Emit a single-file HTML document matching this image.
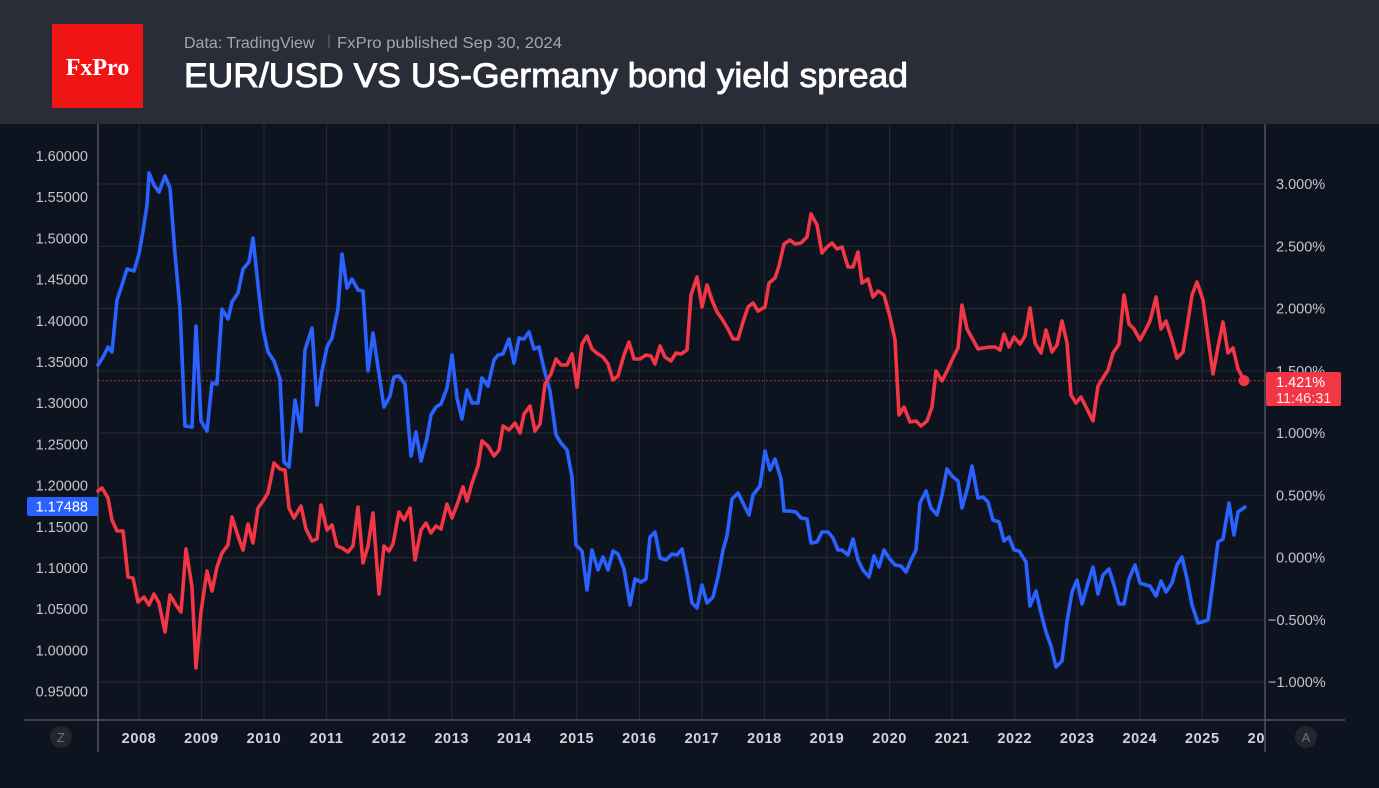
<!DOCTYPE html>
<html><head><meta charset="utf-8"><style>
html,body{margin:0;padding:0;background:#0d131f;}
svg{display:block;}
</style></head><body>
<svg width="1379" height="788" viewBox="0 0 1379 788" xmlns="http://www.w3.org/2000/svg">
<rect x="0" y="0" width="1379" height="788" fill="#0d131f"/>
<rect x="0" y="0" width="1379" height="124" fill="#2a2d38"/>
<rect x="52" y="24" width="91" height="84" fill="#f01414"/>
<text x="97.5" y="75" text-anchor="middle" font-family="Liberation Serif, serif" font-weight="bold" font-size="24" fill="#ffffff">FxPro</text>
<text x="184" y="48" font-family="Liberation Sans, sans-serif" font-size="16" fill="#a3a6ae">Data: TradingView</text>
<rect x="328.5" y="35" width="1" height="13" fill="#6a6d75"/>
<text x="337" y="48" font-family="Liberation Sans, sans-serif" font-size="16" fill="#a3a6ae" textLength="225" lengthAdjust="spacingAndGlyphs">FxPro published Sep 30, 2024</text>
<text x="184" y="87" font-family="Liberation Sans, sans-serif" font-size="34" fill="#ffffff" stroke="#ffffff" stroke-width="0.9" textLength="724" lengthAdjust="spacingAndGlyphs">EUR/USD VS US-Germany bond yield spread</text>

<!-- gridlines -->
<g stroke="#242831" stroke-width="1.2">
<line x1="98" x2="1265" y1="184" y2="184"/>
<line x1="98" x2="1265" y1="246.3" y2="246.3"/>
<line x1="98" x2="1265" y1="308.5" y2="308.5"/>
<line x1="98" x2="1265" y1="370.8" y2="370.8"/>
<line x1="98" x2="1265" y1="433" y2="433"/>
<line x1="98" x2="1265" y1="495.3" y2="495.3"/>
<line x1="98" x2="1265" y1="557.5" y2="557.5"/>
<line x1="98" x2="1265" y1="619.8" y2="619.8"/>
<line x1="98" x2="1265" y1="682" y2="682"/>
<line y1="124" y2="720" x1="139" x2="139"/>
<line y1="124" y2="720" x1="201.5" x2="201.5"/>
<line y1="124" y2="720" x1="264" x2="264"/>
<line y1="124" y2="720" x1="326.6" x2="326.6"/>
<line y1="124" y2="720" x1="389.2" x2="389.2"/>
<line y1="124" y2="720" x1="451.7" x2="451.7"/>
<line y1="124" y2="720" x1="514.3" x2="514.3"/>
<line y1="124" y2="720" x1="576.8" x2="576.8"/>
<line y1="124" y2="720" x1="639.4" x2="639.4"/>
<line y1="124" y2="720" x1="701.9" x2="701.9"/>
<line y1="124" y2="720" x1="764.5" x2="764.5"/>
<line y1="124" y2="720" x1="827" x2="827"/>
<line y1="124" y2="720" x1="889.6" x2="889.6"/>
<line y1="124" y2="720" x1="952.1" x2="952.1"/>
<line y1="124" y2="720" x1="1014.7" x2="1014.7"/>
<line y1="124" y2="720" x1="1077.2" x2="1077.2"/>
<line y1="124" y2="720" x1="1139.8" x2="1139.8"/>
<line y1="124" y2="720" x1="1202.3" x2="1202.3"/>
</g>

<!-- axes -->
<g stroke="#50535c" stroke-width="1.5">
<line x1="98" x2="98" y1="124" y2="752"/>
<line x1="1265" x2="1265" y1="124" y2="752"/>
<line x1="24" x2="1345" y1="720" y2="720"/>
</g>

<!-- dotted price line -->
<line x1="98" x2="1265" y1="380.6" y2="380.6" stroke="#f23645" stroke-width="1" stroke-dasharray="1.5 2.5"/>

<!-- left labels -->
<g font-family="Liberation Sans, sans-serif" font-size="14.5" fill="#c3c6cd" text-anchor="end">
<text x="88" y="161">1.60000</text>
<text x="88" y="202.2">1.55000</text>
<text x="88" y="243.4">1.50000</text>
<text x="88" y="284.6">1.45000</text>
<text x="88" y="325.8">1.40000</text>
<text x="88" y="367">1.35000</text>
<text x="88" y="408.2">1.30000</text>
<text x="88" y="449.4">1.25000</text>
<text x="88" y="490.6">1.20000</text>
<text x="88" y="531.8">1.15000</text>
<text x="88" y="573">1.10000</text>
<text x="88" y="614.2">1.05000</text>
<text x="88" y="655.4">1.00000</text>
<text x="88" y="696.6">0.95000</text>
</g>

<!-- right labels -->
<g font-family="Liberation Sans, sans-serif" font-size="14.5" fill="#c3c6cd">
<text x="1276" y="189">3.000%</text>
<text x="1276" y="251.3">2.500%</text>
<text x="1276" y="313.5">2.000%</text>
<text x="1276" y="375.8">1.500%</text>
<text x="1276" y="438">1.000%</text>
<text x="1276" y="500.3">0.500%</text>
<text x="1276" y="562.5">0.000%</text>
<text x="1268" y="624.8">−0.500%</text>
<text x="1268" y="687">−1.000%</text>
</g>

<!-- x labels -->
<defs><clipPath id="cx"><rect x="98" y="722" width="1167" height="30"/></clipPath></defs>
<g font-family="Liberation Sans, sans-serif" font-size="14.5" font-weight="bold" fill="#d1d4dc" text-anchor="middle" letter-spacing="0.6" clip-path="url(#cx)">
<text x="139" y="743">2008</text>
<text x="201.5" y="743">2009</text>
<text x="264" y="743">2010</text>
<text x="326.6" y="743">2011</text>
<text x="389.2" y="743">2012</text>
<text x="451.7" y="743">2013</text>
<text x="514.3" y="743">2014</text>
<text x="576.8" y="743">2015</text>
<text x="639.4" y="743">2016</text>
<text x="701.9" y="743">2017</text>
<text x="764.5" y="743">2018</text>
<text x="827" y="743">2019</text>
<text x="889.6" y="743">2020</text>
<text x="952.1" y="743">2021</text>
<text x="1014.7" y="743">2022</text>
<text x="1077.2" y="743">2023</text>
<text x="1139.8" y="743">2024</text>
<text x="1202.3" y="743">2025</text>
<text x="1265" y="743">2026</text>
</g>

<circle cx="61" cy="737" r="11" fill="#22262f"/>
<text x="61" y="742" text-anchor="middle" font-family="Liberation Sans, sans-serif" font-size="13" fill="#6f727a">Z</text>
<circle cx="1306" cy="737" r="11" fill="#22262f"/>
<text x="1306" y="742" text-anchor="middle" font-family="Liberation Sans, sans-serif" font-size="13" fill="#6f727a">A</text>

<!-- blue series -->
<polyline fill="none" stroke="#2962ff" stroke-width="3.6" stroke-linejoin="round" stroke-linecap="round" points="98,365 103,357 108,347 112,352 117,300 122,285 127,269 134,271 139,254 143,231 147,205 149,173 154,185 159,192 165,176 170,188 175,254 180,309 185,426 192,427 196,326 201,421 207,431 212,383 217,384 222,309 228,319 232,302 238,293 243,269 249,262 253,238 258,285 263,329 268,352 274,361 280,379 284,462 289,467 295,400 301,431 305,350 312,328 317,405 322,371 327,347 332,338 338,309 342,254 347,288 352,279 358,290 363,291 368,371 373,333 379,374 384,407 390,396 394,377 399,376 405,384 411,456 416,432 421,461 427,438 431,415 436,407 441,404 447,388 452,355 457,398 462,419 467,390 472,403 478,403 482,378 488,386 494,360 498,355 503,354 509,339 514,363 519,338 524,339 529,332 534,349 539,347 544,369 550,391 556,435 561,443 567,450 572,477 576,545 582,551 587,590 592,550 598,570 603,557 608,570 613,551 618,554 624,569 630,605 635,579 641,582 646,579 650,537 655,532 660,558 666,560 672,554 677,555 682,549 687,574 692,603 697,608 702,585 707,603 713,597 718,577 723,550 727,536 732,499 738,493 743,503 749,515 753,495 760,486 765,451 770,470 775,459 781,479 784,511 790,511 796,512 801,518 807,519 811,543 817,542 822,532 828,532 833,538 838,550 842,550 848,555 853,539 858,560 863,570 869,577 874,556 879,567 884,550 889,558 895,565 901,566 906,572 911,560 916,550 920,503 926,491 931,508 937,515 942,495 947,469 952,476 958,481 962,508 968,486 972,466 978,498 983,497 988,502 993,520 999,522 1004,541 1009,537 1014,550 1019,551 1026,562 1030,606 1036,591 1041,613 1046,632 1051,646 1056,667 1062,661 1067,622 1072,592 1077,580 1082,604 1088,583 1093,567 1098,594 1103,575 1109,569 1114,585 1119,604 1124,604 1129,579 1135,565 1140,583 1146,585 1150,586 1156,596 1161,581 1166,592 1172,583 1177,565 1182,557 1187,579 1192,605 1198,623 1202,622 1208,620 1213,582 1218,542 1223,539 1229,503 1234,535 1238,512 1245,507"/>

<!-- red series -->
<polyline fill="none" stroke="#f23645" stroke-width="3.6" stroke-linejoin="round" stroke-linecap="round" points="98,491 102,488 108,498 112,520 117,531 123,531 128,577 133,578 138,602 144,597 149,605 154,594 159,603 165,632 170,595 176,605 181,612 186,549 192,587 196,668 201,612 207,571 212,591 217,567 222,553 228,545 232,517 238,536 243,550 248,524 253,543 258,508 263,501 268,493 274,463 280,469 285,470 289,508 294,518 301,506 306,529 312,541 317,539 321,505 327,530 332,525 337,546 342,548 348,552 353,546 358,507 363,563 368,546 373,513 379,594 384,546 389,551 393,544 399,512 404,520 410,508 415,560 421,530 426,523 431,533 436,526 441,529 447,504 452,518 458,502 463,487 467,501 472,483 478,466 482,441 488,446 494,456 499,450 503,426 509,430 515,423 520,433 524,414 530,406 535,431 540,424 545,384 551,374 556,359 561,365 567,365 572,354 577,387 582,344 587,336 592,349 598,354 603,357 608,364 613,380 618,376 624,355 629,342 634,359 640,359 646,355 651,356 655,364 660,346 665,357 671,361 676,353 681,354 687,350 691,295 697,277 702,307 707,285 712,300 717,312 722,319 728,329 733,339 738,339 743,322 748,307 753,303 758,311 765,307 769,283 775,278 779,266 784,244 790,240 795,244 801,243 807,237 811,214 817,225 822,253 827,247 832,243 837,249 842,247 848,267 853,267 858,252 862,283 868,279 873,297 878,291 884,295 890,317 895,340 899,415 904,407 910,422 916,421 921,426 927,421 932,407 936,371 942,381 947,371 952,360 958,348 962,305 967,329 972,338 978,349 983,348 990,347 995,347 1000,350 1004,334 1009,347 1014,337 1020,344 1025,336 1030,308 1035,343 1041,353 1046,330 1052,352 1057,345 1062,321 1067,343 1071,395 1076,403 1081,397 1087,409 1093,421 1098,386 1103,378 1108,370 1113,353 1119,344 1124,295 1129,324 1134,329 1140,340 1145,331 1150,321 1156,297 1161,329 1166,321 1172,340 1177,358 1183,352 1188,321 1192,295 1197,282 1203,300 1208,338 1213,374 1218,347 1223,322 1228,353 1233,348 1238,369 1244,380"/>
<circle cx="1244" cy="380.6" r="5.5" fill="#f23645"/>

<!-- value boxes -->
<rect x="27" y="497" width="71" height="19" rx="2" fill="#2962ff"/>
<text x="88" y="511.5" text-anchor="end" font-family="Liberation Sans, sans-serif" font-size="14.5" fill="#ffffff">1.17488</text>
<rect x="1266" y="372" width="75" height="34" rx="2" fill="#f23645"/>
<text x="1276" y="387" font-family="Liberation Sans, sans-serif" font-size="14.5" fill="#ffffff">1.421%</text>
<text x="1276" y="403" font-family="Liberation Sans, sans-serif" font-size="14.5" fill="#ffe3e5">11:46:31</text>
</svg>
</body></html>
